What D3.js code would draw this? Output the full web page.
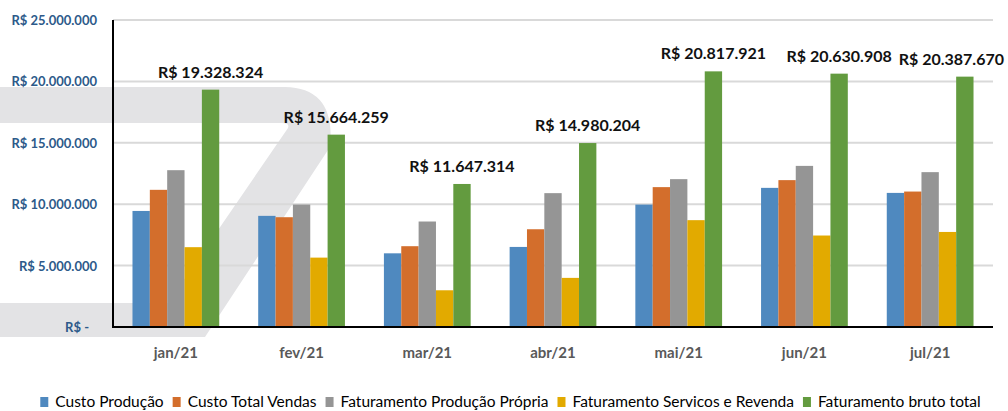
<!DOCTYPE html>
<html><head><meta charset="utf-8">
<script src="https://cdn.jsdelivr.net/npm/d3@7"></script>
<style>
html,body{margin:0;padding:0;background:#fff;}
svg{display:block;font-family:Lato,"Open Sans",sans-serif;}
</style></head>
<body>
<svg id="chart" width="1008" height="411"></svg>
<script>
const categories = ["jan/21","fev/21","mar/21","abr/21","mai/21","jun/21","jul/21"];
const seriesNames = ["Custo Produção","Custo Total Vendas","Faturamento Produção Própria","Faturamento Servicos e Revenda","Faturamento bruto total"];
const custoProducao = [9450000, 9050000, 6000000, 6520000, 9970000, 11330000, 10920000];
const custoTotalVendas = [11170000, 8940000, 6580000, 7960000, 11390000, 11960000, 11030000];
const fatProducaoPropria = [12770000, 9970000, 8590000, 10900000, 12040000, 13120000, 12610000];
const fatServicosRevenda = [6500000, 5650000, 2990000, 4000000, 8700000, 7450000, 7740000];
const fatBrutoTotal = [19328324, 15664259, 11647314, 14980204, 20817921, 20630908, 20387670];
const yTicks = [0, 5000000, 10000000, 15000000, 20000000, 25000000];
const yTickLabels = ["R$ -","R$ 5.000.000","R$ 10.000.000","R$ 15.000.000","R$ 20.000.000","R$ 25.000.000"];
const colors = ["#4f89bf","#d36e2c","#959595","#e2aa00","#639b3f"];

const series = [custoProducao, custoTotalVendas, fatProducaoPropria, fatServicosRevenda, fatBrutoTotal];
const svg = d3.select("#chart");
const W = 1008, H = 411;
const m = {left:113, right:15, top:20, bottom:84};
const pw = W - m.left - m.right, ph = H - m.top - m.bottom;

// background watermark
svg.append("path")
  .attr("d","M0,87 L285,87 Q336,88 330,147 L205,337 L0,337 L0,303 L168,303 L288,128 Q290,123 282,123 L0,123 Z")
  .attr("fill","#e3e3e5");

const g = svg.append("g").attr("transform",`translate(${m.left},${m.top})`);

const x0 = d3.scaleBand().domain(categories).range([0,pw]).paddingInner(0.31).paddingOuter(0.155);
const x1 = d3.scaleBand().domain(d3.range(series.length)).range([0,x0.bandwidth()]);
const y = d3.scaleLinear().domain([0,25000000]).range([ph,0]);

// gridlines
g.append("g").selectAll("line").data(yTicks.filter(v=>v>0)).join("line")
  .attr("x1",0).attr("x2",pw).attr("y1",d=>y(d)).attr("y2",d=>y(d))
  .attr("stroke","#d9d9d9").attr("stroke-width",2);

// bars
const groups = g.append("g").selectAll("g").data(categories).join("g")
  .attr("transform",d=>`translate(${x0(d)},0)`);
groups.selectAll("rect").data((c,i)=>series.map((s,k)=>({k, v:s[i]}))).join("rect")
  .attr("x",d=>x1(d.k)).attr("width",x1.bandwidth())
  .attr("y",d=>y(d.v)).attr("height",d=>ph-y(d.v))
  .attr("fill",d=>colors[d.k]);

// axes
const yAxis = d3.axisLeft(y).tickValues(yTicks).tickSize(0).tickFormat((d,i)=>yTickLabels[i]);
const ya = g.append("g").call(yAxis);
ya.select(".domain").remove();
ya.selectAll("text").attr("x",-16).attr("dy","0.35em")
  .attr("font-family","Lato").attr("font-weight","bold").attr("font-size",13).attr("fill","#2d5a8a")
  .attr("dx",(d)=>d===0?-8:0);

g.append("line").attr("x1",0).attr("x2",0).attr("y1",0).attr("y2",ph).attr("stroke","#000").attr("stroke-width",2);
g.append("line").attr("x1",-1).attr("x2",pw).attr("y1",ph).attr("y2",ph).attr("stroke","#000").attr("stroke-width",2);

const xAxis = d3.axisBottom(x0).tickSize(0);
const xa = g.append("g").attr("transform",`translate(0,${ph})`).call(xAxis);
xa.select(".domain").remove();
xa.selectAll("text").attr("y",0).attr("dy",30.5)
  .attr("font-family","Lato").attr("font-weight","bold").attr("font-size",15).attr("fill","#595959");

// data labels for total
const fmt = v => "R$ " + d3.format(",")(v).replace(/,/g,".");
const lbl = g.append("g").selectAll("text").data(categories).join("text")
  .attr("y",(c,i)=>y(fatBrutoTotal[i])-12)
  .attr("text-anchor","middle")
  .attr("font-family","Lato").attr("font-weight","bold").attr("font-size",16).attr("fill","#111")
  .text((c,i)=>fmt(fatBrutoTotal[i]));
lbl.each(function(c){
  const w = this.getComputedTextLength();
  let cx = x0(c) + x1(4) + x1.bandwidth()/2;
  const maxRight = W - m.left - 4;
  if (cx + w/2 > maxRight) cx = maxRight - w/2;
  d3.select(this).attr("x",cx);
});

// legend
const leg = svg.append("g");
const items = leg.selectAll("g").data(seriesNames).join("g");
items.append("rect").attr("width",8).attr("height",10).attr("y",397).attr("fill",(d,i)=>colors[i]);
items.append("text").attr("x",15).attr("y",407).text(d=>d)
  .attr("font-family","Lato").attr("font-size",15.5).attr("fill","#000");
let widths = [];
items.each(function(){ widths.push(d3.select(this).select("text").node().getComputedTextLength()); });
const gap = 9;
const total = d3.sum(widths) + widths.length*15 + (widths.length-1)*gap;
let cur = (33+988)/2 - total/2;
items.each(function(d,i){ d3.select(this).attr("transform",`translate(${cur},0)`); cur += 15 + widths[i] + gap; });
</script>
</body></html>
